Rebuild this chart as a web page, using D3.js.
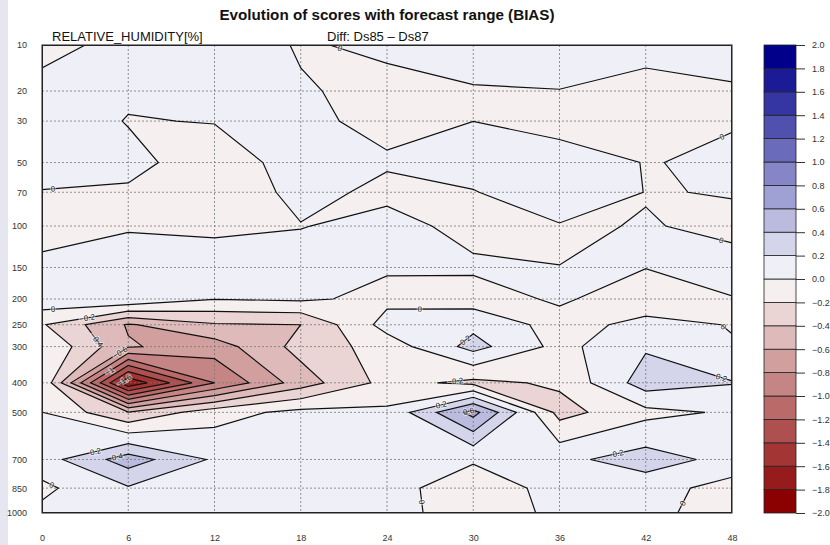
<!DOCTYPE html>
<html>
<head>
<meta charset="utf-8">
<script src="https://cdn.jsdelivr.net/npm/d3@7"></script>
<style>
    body { margin: 0; background: #fff; }
    #chart text { font-family: "Liberation Sans", Arial, sans-serif; }
    #chart .title { font-size: 15.2px; font-weight: bold; fill: #111; }
    #chart .subtitle { font-size: 13px; fill: #111; }
    #chart .grid line { stroke: #777; stroke-width: 0.8; stroke-dasharray: 2,2; }
    #chart path.line { fill: none; stroke: #111; stroke-width: 1.2; }
    #chart .clabel { font-size: 8px; fill: #222; paint-order: stroke; stroke: rgba(255,255,255,0.55); stroke-width: 2px; }
    #chart .axis text { font-size: 9px; fill: #333; }
    #chart .axis path.domain { display: none; }
    #chart .cbar line { stroke: #333; }
</style>
</head>
<body>
<div id="chart"></div>
<script>
    // forecast range (h) and pressure levels (hPa)
    const steps = [0, 6, 12, 18, 24, 30, 36, 42, 48];
    const levels = [10, 20, 30, 50, 70, 100, 150, 200, 250, 300, 400, 500, 700, 850, 1000];

    // bias Ds85 - Ds87, one array per level, one value per step
    const p10 = [-0.05, 0.05, 0.07, -0.01, 0.02, 0.05, 0.05, 0.03, 0.04];
    const p20 = [0.05, 0.035, 0.05, 0.01, -0.03, -0.008, -0.002, -0.03, -0.01];
    const p30 = [0.13, -0.01, 0.008, 0.038, -0.047, -0.001, -0.12, -0.05, -0.015];
    const p50 = [0.1, 0.057, -0.106, 0.083, 0.02, 0.1, 0.15, -0.011, 0.04];
    const p70 = [-0.01, -0.026, -0.15, 0.06, -0.045, -0.011, 0.15, -0.0046, 0.0048];
    const p100 = [-0.05, -0.02, -0.04, -0.008, 0.065, -0.06, -0.015, 0.006, -0.02];
    const p150 = [0.03, 0.11, 0.1, 0.1, 0.018, 0.031, 0.001, 0.0045, 0.029];
    const p200 = [0.13, 0.17, 0.005, 0.03, -0.05, -0.093, 0.03, -0.12, -0.0032];
    const p250 = [-0.18, -0.62, -0.42, -0.4, 0.076, 0.151, -0.08, 0.06, -0.0085];
    const p300 = [0.003, -0.58, -0.7, -0.33, -0.11, 0.27, -0.063, 0.177, 0.012];
    const p400 = [-0.01, -1.77, -1.0, -0.5, -0.13, -0.25, -0.17, 0.3, 0.21];
    const p500 = [0.002, -0.39, -0.08, 0.056, 0.035, 0.67, -0.27, -0.057, 0.026];
    const p700 = [0.106, 0.5, 0.17, 0.08, 0.06, 0.01, 0.15, 0.29, 0.137];
    const p850 = [-0.042, 0.18, 0.08, 0.06, 0.031, -0.05, 0.03, 0.09, -0.084];
    const p1000 = [0.044, 0.01, 0.017, 0.05, 0.036, -0.05, 0.019, 0.05, -0.085];

    const rows = [p10, p20, p30, p50, p70, p100, p150, p200, p250, p300, p400, p500, p700, p850, p1000];

    // colour bar classes
    const classEdges = d3.range(-10, 11).map(k => +(k * 0.2).toFixed(1));

    (function () {
        const width = 830, height = 545;
        const x0 = 42, x1 = 732, y0 = 45, y1 = 513;

        const svg = d3.select("#chart").append("svg")
            .attr("width", width)
            .attr("height", height);

        svg.append("rect").attr("x", 0).attr("y", 0).attr("width", 8).attr("height", height)
            .attr("fill", "#e6e6f1");

        const x = d3.scaleLinear().domain([0, 48]).range([x0, x1]);
        const y = d3.scalePow().exponent(0.2).domain([10, 1000]).range([y0, y1]);

        const nx = steps.length, ny = levels.length;
        const colPx = d3.scaleLinear().domain(d3.range(nx)).range(steps.map(x));
        const rowPx = d3.scaleLinear().domain(d3.range(ny)).range(levels.map(y));

        // d3.contours puts value i at i + 0.5
        function toPx(p) {
            const i = Math.max(0, Math.min(nx - 1, p[0] - 0.5));
            const j = Math.max(0, Math.min(ny - 1, p[1] - 0.5));
            return [colPx(i), rowPx(j)];
        }

        const lightBlue = "#eff0f7", darkBlue = "#00008b";
        const lightRed = "#f6efef", darkRed = "#8b0000";
        function bandColor(t) {
            if (t >= 0) return d3.interpolateRgb(lightBlue, darkBlue)(Math.round(t / 0.2) / 9);
            return d3.interpolateRgb(lightRed, darkRed)((Math.round(-t / 0.2) - 1) / 9);
        }

        const values = rows.flat();
        const thresholds = classEdges.slice(0, -1);
        const contours = d3.contours().size([nx, ny]).thresholds(thresholds)(values);

        const rings = [];
        contours.forEach(c => c.coordinates.forEach(poly => poly.forEach(ring => {
            rings.push({value: c.value, pts: ring.map(toPx)});
        })));

        function pathOf(c) {
            return c.coordinates.map(poly => poly.map(ring =>
                "M" + ring.map(toPx).map(p => p[0].toFixed(2) + "," + p[1].toFixed(2)).join("L") + "Z"
            ).join("")).join("");
        }

        const plot = svg.append("g");
        plot.append("defs").append("clipPath").attr("id", "plotclip")
            .append("rect").attr("x", x0).attr("y", y0).attr("width", x1 - x0).attr("height", y1 - y0);

        plot.append("rect").attr("x", x0).attr("y", y0).attr("width", x1 - x0).attr("height", y1 - y0)
            .attr("fill", bandColor(-2));

        plot.append("g").attr("clip-path", "url(#plotclip)")
            .selectAll("path")
            .data(contours)
            .join("path")
            .attr("d", pathOf)
            .attr("fill", d => bandColor(d.value));

        // grid
        const grid = plot.append("g").attr("class", "grid");
        grid.selectAll("line.v").data(steps.slice(1, -1)).join("line").attr("class", "v")
            .attr("x1", x).attr("x2", x).attr("y1", y0).attr("y2", y1);
        grid.selectAll("line.h").data(levels.slice(1, -1)).join("line").attr("class", "h")
            .attr("x1", x0).attr("x2", x1).attr("y1", y).attr("y2", y);

        // contour lines
        plot.append("g").attr("clip-path", "url(#plotclip)")
            .selectAll("path")
            .data(contours.filter(c => c.value > -2))
            .join("path")
            .attr("class", "line")
            .attr("d", pathOf);

        // contour labels
        const inside = p => p[0] > x0 + 0.6 && p[0] < x1 - 0.6 && p[1] > y0 + 0.6 && p[1] < y1 - 0.6;

        function pointAt(run, target) {
            for (const [a, b] of d3.pairs(run)) {
                const len = Math.hypot(b[0] - a[0], b[1] - a[1]);
                if (len > 0 && target <= len) {
                    const f = target / len;
                    return {p: [a[0] + f * (b[0] - a[0]), a[1] + f * (b[1] - a[1])], dx: b[0] - a[0], dy: b[1] - a[1]};
                }
                target -= len;
            }
            return null;
        }
        const runLength = run => d3.sum(d3.pairs(run), ([a, b]) => Math.hypot(b[0] - a[0], b[1] - a[1]));

        const spots = [];
        rings.filter(r => r.value > -2).forEach(r => {
            const pts = r.pts;
            if (pts.every(inside)) {
                // closed loop: middle of the upper-left side
                const n = pts.length - 1;
                const kL = d3.minIndex(pts.slice(0, n), p => p[0]);
                const kT = d3.minIndex(pts.slice(0, n), p => p[1]);
                const fwd = [], back = [];
                for (let k = kL; ; k = (k + 1) % n) { fwd.push(pts[k]); if (k === kT) break; }
                for (let k = kL; ; k = (k + n - 1) % n) { back.push(pts[k]); if (k === kT) break; }
                const side = runLength(fwd) < runLength(back) ? fwd : back;
                const len = runLength(side);
                if (runLength(pts) < 20) return;
                const sp = len > 0 ? pointAt(side, len / 2) : null;
                if (sp) spots.push(Object.assign({value: r.value}, sp));
                return;
            }
            const s = pts.findIndex(p => !inside(p));
            const ring = pts.slice(s).concat(pts.slice(0, s + 1));
            let run = null;
            ring.forEach((p, k) => {
                if (inside(p)) {
                    if (!run) run = [ring[k - 1]];
                    run.push(p);
                } else if (run) {
                    run.push(p);
                    const total = runLength(run);
                    if (total >= 28) {
                        const sp = pointAt(run, Math.min(11, total / 2));
                        if (sp) spots.push(Object.assign({value: r.value}, sp));
                    }
                    run = null;
                }
            });
        });

        // drop labels that would sit on top of another one
        const kept = [];
        spots.forEach(s => {
            if (kept.every(k => Math.hypot(k.p[0] - s.p[0], k.p[1] - s.p[1]) > 16)) kept.push(s);
        });

        const fmt = v => String(+v.toFixed(1)).replace("-", "\u2212");
        plot.append("g").selectAll("text")
            .data(kept)
            .join("text")
            .attr("class", "clabel")
            .attr("text-anchor", "middle")
            .attr("dy", "0.35em")
            .attr("transform", d => {
                let a = Math.atan2(d.dy, d.dx) * 180 / Math.PI;
                if (a > 90) a -= 180;
                if (a < -90) a += 180;
                return "translate(" + d.p[0] + "," + d.p[1] + ")rotate(" + a + ")";
            })
            .text(d => fmt(d.value));

        // frame
        plot.append("rect").attr("x", x0).attr("y", y0).attr("width", x1 - x0).attr("height", y1 - y0)
            .attr("fill", "none").attr("stroke", "#333").attr("stroke-width", 1.1);

        // axes
        svg.append("g").attr("class", "axis")
            .attr("transform", "translate(" + x0 + ",0)")
            .call(d3.axisLeft(y).tickValues(levels).tickSize(0).tickPadding(15).tickFormat(d3.format("d")));
        svg.append("g").attr("class", "axis")
            .attr("transform", "translate(0," + y1 + ")")
            .call(d3.axisBottom(x).tickValues(steps).tickSize(0).tickPadding(22));

        // titles
        svg.append("text").attr("class", "title").attr("x", (x0 + x1) / 2).attr("y", 20)
            .attr("text-anchor", "middle").text("Evolution of scores with forecast range (BIAS)");
        svg.append("text").attr("class", "subtitle").attr("x", 52).attr("y", 41)
            .text("RELATIVE_HUMIDITY[%]");
        svg.append("text").attr("class", "subtitle").attr("x", 327).attr("y", 41)
            .text("Diff: Ds85 \u2013 Ds87");

        // colour bar
        const cb = d3.scaleLinear().domain([-2, 2]).range([y1, y0]);
        const cbx = 764, cbw = 32;
        const cbar = svg.append("g").attr("class", "cbar");
        cbar.selectAll("rect")
            .data(thresholds)
            .join("rect")
            .attr("x", cbx)
            .attr("width", cbw)
            .attr("y", d => cb(d + 0.2))
            .attr("height", d => cb(d) - cb(d + 0.2))
            .attr("fill", d => bandColor(d))
            .attr("stroke", "#222")
            .attr("stroke-width", 0.8);
        cbar.append("g").attr("class", "axis")
            .attr("transform", "translate(" + (cbx + cbw) + ",0)")
            .call(d3.axisRight(cb).tickValues(classEdges).tickSize(9).tickPadding(7).tickFormat(d3.format(".1f")));
    })();
</script>
</body>
</html>
